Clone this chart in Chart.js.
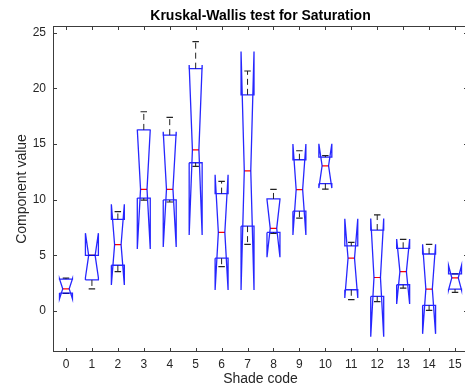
<!DOCTYPE html>
<html>
<head>
<meta charset="utf-8">
<script src="https://cdn.jsdelivr.net/npm/chart.js@4.4.0/dist/chart.umd.min.js"></script>
<style>
  html, body { margin: 0; padding: 0; background: #fff; overflow: hidden; }
  #chart { position: absolute; left: 0; top: 0; }
</style>
</head>
<body>
<canvas id="chart" width="470" height="390"></canvas>
<script>
// Shade codes and y tick labels
const categories = [0, 1, 2, 3, 4, 5, 6, 7, 8, 9, 10, 11, 12, 13, 14, 15];
const yTicks = [0, 5, 10, 15, 20, 25];

// Box statistics
const whiskerLow  = [1.60, 2.00, 3.55, 9.96, 9.80, 13.0, 4.00, 6.00, 6.98, 8.35, 10.95, 1.03, 0.85, 2.07, 0.07, 1.68];
const q1          = [1.62, 2.80, 4.12, 10.15, 9.98, 13.32, 4.75, 7.63, 7.07, 8.97, 11.45, 1.92, 1.32, 2.37, 0.52, 1.98];
const medians     = [2.00, 5.00, 5.97, 10.94, 10.94, 14.48, 7.07, 12.60, 7.43, 10.91, 13.05, 4.75, 3.02, 3.55, 1.98, 2.99];
const q3          = [2.87, 5.00, 8.23, 16.27, 15.80, 21.77, 10.55, 19.42, 10.07, 13.59, 13.82, 5.85, 7.28, 5.64, 5.13, 3.35];
const whiskerHigh = [2.96, 5.00, 8.94, 17.90, 17.40, 24.20, 11.65, 21.56, 10.94, 14.40, 13.97, 6.18, 8.64, 6.45, 6.00, 3.35];
const notchLow    = [1.10, 3.00, 2.35, 5.58, 5.76, 6.83, 1.90, 1.90, 4.84, 6.83, 11.05, 1.18, -2.30, 0.64, -2.04, 1.90];
const notchHigh   = [2.90, 7.00, 9.60, 16.30, 16.10, 22.10, 12.25, 23.30, 10.02, 15.00, 15.02, 8.30, 8.32, 6.48, 6.00, 4.09];

const BOX_HALF = 0.25;
const NOTCH_HALF = 0.125;
const CAP_HALF = 0.125;
const FONT = '"Liberation Sans", Arial, Helvetica, sans-serif';

Chart.defaults.font.family = FONT;

function gap(x) {
    return { x: x, y: null };
}

// build the outline segments for every box
const boxPts = [], medianPts = [], whiskerPts = [], capPts = [];
categories.forEach(function(c, i) {
    const l = c - BOX_HALF, r = c + BOX_HALF;
    const nl = c - NOTCH_HALF, nr = c + NOTCH_HALF;
    boxPts.push(
        { x: l, y: q1[i] }, { x: l, y: notchLow[i] }, { x: nl, y: medians[i] },
        { x: l, y: notchHigh[i] }, { x: l, y: q3[i] }, { x: r, y: q3[i] },
        { x: r, y: notchHigh[i] }, { x: nr, y: medians[i] }, { x: r, y: notchLow[i] },
        { x: r, y: q1[i] }, { x: l, y: q1[i] }, gap(c)
    );
    medianPts.push({ x: nl, y: medians[i] }, { x: nr, y: medians[i] }, gap(c));
    whiskerPts.push(
        { x: c, y: q3[i] }, { x: c, y: whiskerHigh[i] }, gap(c),
        { x: c, y: q1[i] }, { x: c, y: whiskerLow[i] }, gap(c)
    );
    capPts.push(
        { x: c - CAP_HALF, y: whiskerHigh[i] }, { x: c + CAP_HALF, y: whiskerHigh[i] }, gap(c),
        { x: c - CAP_HALF, y: whiskerLow[i] }, { x: c + CAP_HALF, y: whiskerLow[i] }, gap(c)
    );
});

function lineSet(data, color, width, dash) {
    return {
        data: data,
        showLine: true,
        borderColor: color,
        borderWidth: width,
        borderDash: dash || [],
        pointRadius: 0,
        spanGaps: false,
        tension: 0,
        fill: false
    };
}

// border box with inward ticks, matlab style
const axesFrame = {
    id: 'axesFrame',
    afterDraw: function(chart) {
        const ctx = chart.ctx;
        const a = chart.chartArea;
        const xs = chart.scales.x, ys = chart.scales.y;
        ctx.save();
        ctx.strokeStyle = '#3c3c3c';
        ctx.lineWidth = 1;
        ctx.strokeRect(a.left + 0.5, a.top + 0.5, a.right - a.left - 1, a.bottom - a.top - 1);
        ctx.beginPath();
        categories.forEach(function(c) {
            const px = Math.round(xs.getPixelForValue(c)) + 0.5;
            ctx.moveTo(px, a.bottom);
            ctx.lineTo(px, a.bottom - 4);
            ctx.moveTo(px, a.top);
            ctx.lineTo(px, a.top + 4);
        });
        yTicks.forEach(function(v) {
            const py = Math.round(ys.getPixelForValue(v)) + 0.5;
            ctx.moveTo(a.left, py);
            ctx.lineTo(a.left + 4, py);
            ctx.moveTo(a.right, py);
            ctx.lineTo(a.right - 4, py);
        });
        ctx.stroke();
        ctx.restore();
    }
};

new Chart(document.getElementById('chart'), {
    type: 'scatter',
    data: {
        datasets: [
            lineSet(whiskerPts, '#222222', 1, [6, 4]),
            lineSet(boxPts, 'rgba(0, 0, 255, 0.85)', 1.3),
            lineSet(capPts, '#222222', 1.2),
            lineSet(medianPts, '#ff0000', 1.2)
        ]
    },
    options: {
        responsive: false,
        animation: false,
        layout: { padding: { left: 0, right: 2, top: 0, bottom: 0 } },
        plugins: {
            legend: { display: false },
            tooltip: { enabled: false },
            title: {
                display: true,
                fullSize: false,
                text: 'Kruskal-Wallis test for Saturation',
                color: '#000000',
                font: { size: 14, weight: 'bold', lineHeight: 1.2 },
                padding: { top: 7.6, bottom: 1.6 }
            }
        },
        scales: {
            x: {
                type: 'linear',
                min: -0.5,
                max: 15.5,
                afterBuildTicks: function(scale) {
                    scale.ticks = categories.map(function(v) { return { value: v }; });
                },
                afterFit: function(scale) {
                    scale.height = 38;
                },
                grid: { display: false, drawTicks: false },
                border: { display: false },
                ticks: { color: '#262626', font: { size: 12 }, padding: 5, maxRotation: 0, autoSkip: false },
                title: {
                    display: true,
                    text: 'Shade code',
                    color: '#262626',
                    font: { size: 14, lineHeight: 1.2 },
                    padding: { top: 0, bottom: 2.6 }
                }
            },
            y: {
                type: 'linear',
                min: -3.67,
                max: 25.6,
                afterBuildTicks: function(scale) {
                    scale.ticks = yTicks.map(function(v) { return { value: v }; });
                },
                afterFit: function(scale) {
                    scale.width = 53;
                },
                grid: { display: false, drawTicks: false },
                border: { display: false },
                ticks: { color: '#262626', font: { size: 12 }, padding: 7 },
                title: {
                    display: true,
                    text: 'Component value',
                    color: '#262626',
                    font: { size: 14, lineHeight: 1.2 },
                    padding: { top: 13.6, bottom: 0 }
                }
            }
        }
    },
    plugins: [axesFrame]
});
</script>
</body>
</html>
